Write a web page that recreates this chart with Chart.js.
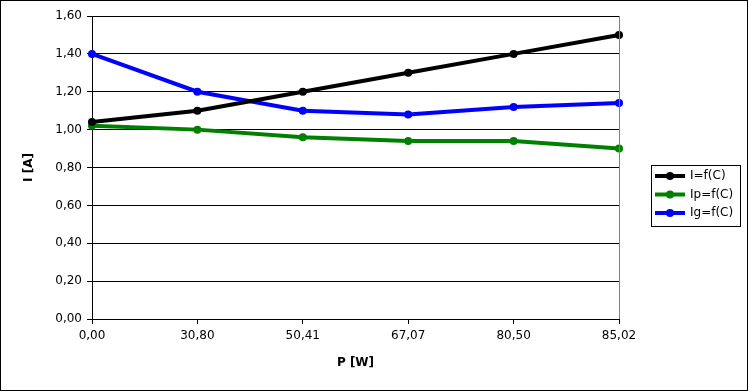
<!DOCTYPE html>
<html>
<head>
<meta charset="utf-8">
<script src="https://cdn.jsdelivr.net/npm/chart.js@4/dist/chart.umd.min.js"></script>
<style>
  html, body { margin: 0; padding: 0; background: #fff; }
  canvas { display: block; }
</style>
</head>
<body>
<canvas id="chart" width="748" height="391"></canvas>
<script>
// dane
var labelsP = ['0,00', '30,80', '50,41', '67,07', '80,50', '85,02'];
var valuesI = [1.04, 1.10, 1.20, 1.30, 1.40, 1.50];
var valuesIp = [1.02, 1.00, 0.96, 0.94, 0.94, 0.90];
var valuesIg = [1.40, 1.20, 1.10, 1.08, 1.12, 1.14];
var seriesNames = ['I=f(C)', 'Ip=f(C)', 'Ig=f(C)'];
var seriesColors = ['#000000', '#008000', '#0000ff'];

var FONT = 'DejaVu Sans';

function makeSet(name, data, color) {
  return {
    label: name,
    data: data,
    borderColor: color,
    backgroundColor: color,
    borderWidth: 4,
    pointRadius: 4,
    pointHoverRadius: 4,
    pointBorderWidth: 0,
    tension: 0,
    fill: false
  };
}

// ramka, prawa krawędź i legenda
var framePlugin = {
  id: 'frame',
  afterDraw: function (chart) {
    var ctx = chart.ctx;
    var a = chart.chartArea;
    ctx.save();
    ctx.strokeStyle = '#808080';
    ctx.lineWidth = 1;
    ctx.beginPath();
    ctx.moveTo(Math.round(a.right) + 0.5, a.top);
    ctx.lineTo(Math.round(a.right) + 0.5, a.bottom);
    ctx.stroke();

    ctx.strokeStyle = '#000';
    ctx.strokeRect(0.5, 0.5, chart.width - 1, chart.height - 1);

    // legenda
    var lx = 651, ly = 165, lw = 89, lh = 61;
    ctx.strokeRect(lx + 0.5, ly + 0.5, lw, lh);
    ctx.font = '12px "' + FONT + '"';
    ctx.textBaseline = 'middle';
    chart.data.datasets.forEach(function (ds, i) {
      var y = ly + 11 + i * 18.5;
      ctx.strokeStyle = ds.borderColor;
      ctx.fillStyle = ds.borderColor;
      ctx.lineWidth = 4;
      ctx.beginPath();
      ctx.moveTo(655, y);
      ctx.lineTo(685, y);
      ctx.stroke();
      ctx.beginPath();
      ctx.arc(670, y, 4, 0, Math.PI * 2);
      ctx.fill();
      ctx.fillStyle = '#000';
      ctx.fillText(ds.label, 690, y);
    });
    ctx.restore();
  }
};

var ctx = document.getElementById('chart').getContext('2d');
var chart = new Chart(ctx, {
  type: 'line',
  data: {
    labels: labelsP,
    datasets: [
      makeSet(seriesNames[0], valuesI, seriesColors[0]),
      makeSet(seriesNames[1], valuesIp, seriesColors[1]),
      makeSet(seriesNames[2], valuesIg, seriesColors[2])
    ]
  },
  options: {
    responsive: false,
    animation: false,
    layout: { padding: { left: 0, top: 16, right: 129, bottom: 0 } },
    plugins: {
      legend: { display: false },
      tooltip: { enabled: false }
    },
    scales: {
      x: {
        offset: false,
        grid: {
          display: true,
          drawOnChartArea: false,
          drawTicks: true,
          tickLength: 5,
          color: '#000'
        },
        border: { display: true, color: '#000', width: 1 },
        ticks: {
          color: '#000',
          font: { family: FONT, size: 12 },
          maxRotation: 0,
          padding: 5
        },
        title: {
          display: true,
          text: 'P [W]',
          color: '#000',
          font: { family: FONT, size: 12, weight: 'bold' },
          padding: { top: 4, bottom: 21 }
        },
        afterFit: function (scale) { scale.height = 72; }
      },
      y: {
        min: 0,
        max: 1.6,
        grid: {
          color: '#000',
          drawTicks: true,
          tickLength: 5
        },
        border: { display: true, color: '#000', width: 1 },
        ticks: {
          stepSize: 0.2,
          color: '#000',
          font: { family: FONT, size: 12 },
          padding: 5,
          callback: function (v) { return v.toFixed(2).replace('.', ','); }
        },
        title: {
          display: true,
          text: 'I [A]',
          color: '#000',
          font: { family: FONT, size: 12, weight: 'bold' },
          padding: { top: 22, bottom: 4 }
        },
        afterFit: function (scale) { scale.width = 92; }
      }
    }
  },
  plugins: [framePlugin]
});
</script>
</body>
</html>
